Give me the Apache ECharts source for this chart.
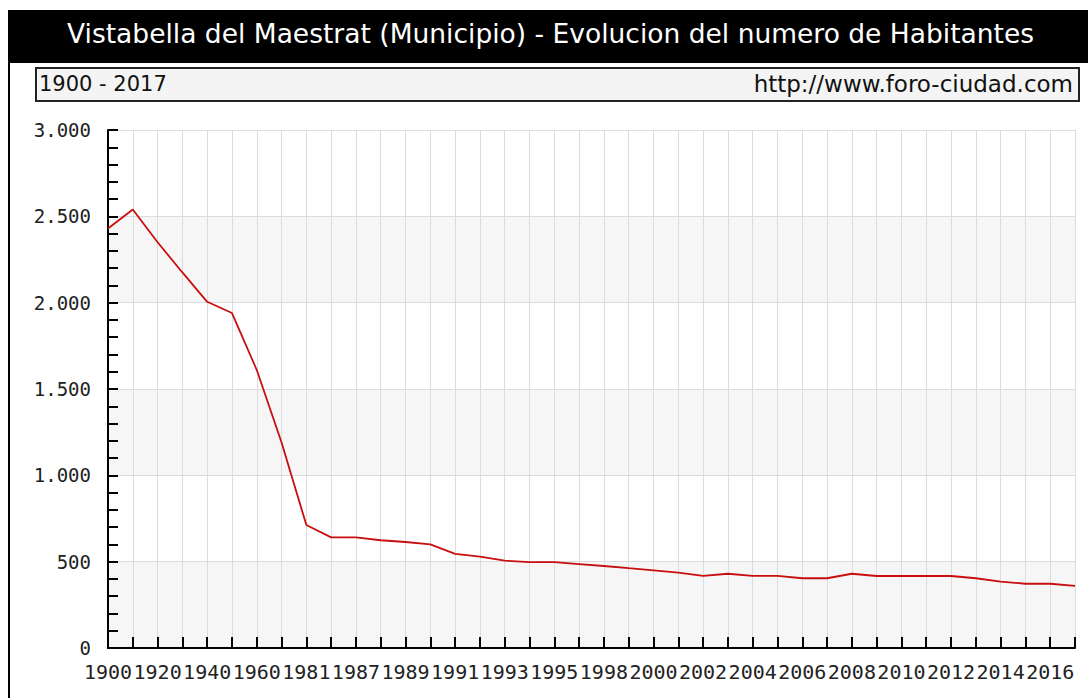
<!DOCTYPE html>
<html>
<head>
<meta charset="utf-8">
<script src="https://cdn.jsdelivr.net/npm/echarts@6/dist/echarts.min.js"></script>
<style>
html,body{margin:0;padding:0;background:#fff;}
#chart{width:1088px;height:698px;}
</style>
</head>
<body>
<div id="chart"></div>
<script>
const titleText = 'Vistabella del Maestrat (Municipio) - Evolucion del numero de Habitantes';
const rangeText = '1900 - 2017';
const sourceText = 'http://www.foro-ciudad.com';

const years = ['1900','1910','1920','1930','1940','1950','1960','1970','1981','1986',
  '1987','1988','1989','1990','1991','1992','1993','1994','1995','1996',
  '1998','1999','2000','2001','2002','2003','2004','2005','2006','2007',
  '2008','2009','2010','2011','2012','2013','2014','2015','2016','2017'];

const habitantes = [2430,2540,2350,2175,2005,1940,1610,1190,712,641,
  641,624,614,600,545,529,506,497,497,486,
  475,462,450,436,418,430,418,418,404,404,
  430,417,417,417,417,404,385,372,372,360];

const yTicks = [0,500,1000,1500,2000,2500,3000];

function fmt(v){
  return String(v).replace(/\B(?=(\d{3})+(?!\d))/g,'.');
}

const chart = echarts.init(document.getElementById('chart'), null, {renderer:'svg'});
chart.setOption({
  animation:false,
  backgroundColor:'#ffffff',
  graphic:[
    {type:'rect', shape:{x:8,y:10,width:1080,height:53}, style:{fill:'#000'}, z:0},
    {type:'rect', shape:{x:8,y:10,width:2,height:688}, style:{fill:'#000'}, z:0},
    {type:'rect', shape:{x:36,y:68,width:1043,height:33}, style:{fill:'#f4f4f4',stroke:'#222',lineWidth:2}, z:0},
    {type:'text', left:39, top:73, style:{text:rangeText, fill:'#111', font:'21px "DejaVu Sans"'}, z:2},
    {type:'text', right:15, top:72, style:{text:sourceText, fill:'#111', font:'23px "DejaVu Sans"'}, z:2},
    {type:'text', left:67, top:20, style:{text:titleText, fill:'#fff', font:'26.5px "DejaVu Sans"'}, z:2}
  ],
  grid:{left:108, right:13, top:130, bottom:50, containLabel:false},
  xAxis:{
    type:'category',
    data:years,
    boundaryGap:false,
    axisLine:{lineStyle:{color:'#000',width:2}},
    axisTick:{show:true, inside:true, length:11, interval:0, lineStyle:{color:'#000',width:2}},
    axisLabel:{interval:1, color:'#222', fontFamily:'DejaVu Sans Mono', fontSize:20, margin:14},
    splitLine:{show:true, interval:0, lineStyle:{color:'#dcdcdc',width:1}}
  },
  yAxis:{
    type:'value',
    min:yTicks[0], max:yTicks[yTicks.length-1], interval:500,
    axisLine:{show:true, lineStyle:{color:'#000',width:2}},
    axisTick:{show:true, inside:true, length:10, lineStyle:{color:'#000',width:2}},
    minorTick:{show:true, splitNumber:5, length:10, lineStyle:{color:'#000',width:2}},
    axisLabel:{color:'#222', fontFamily:'DejaVu Sans Mono', fontSize:19, margin:17, formatter:fmt},
    splitLine:{show:true, lineStyle:{color:'#dcdcdc',width:1}},
    splitArea:{show:true, areaStyle:{color:['#f6f6f6','#ffffff']}}
  },
  series:[{
    type:'line',
    data:habitantes,
    showSymbol:false,
    lineStyle:{color:'#c80f0f', width:1.8},
    z:5
  }]
});
</script>
</body>
</html>
